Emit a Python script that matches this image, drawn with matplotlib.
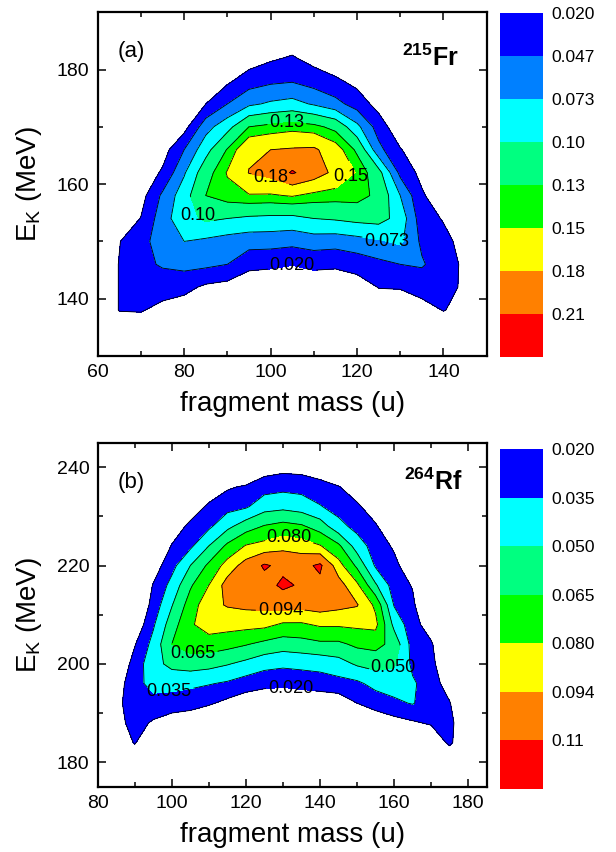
import numpy as np
import matplotlib.pyplot as plt
from matplotlib.ticker import MultipleLocator

plt.rcParams['font.family'] = ['Liberation Sans', 'DejaVu Sans']
plt.rcParams['mathtext.fontset'] = 'custom'
plt.rcParams['mathtext.rm'] = 'Liberation Sans'
plt.rcParams['mathtext.it'] = 'Liberation Sans:italic'
plt.rcParams['mathtext.bf'] = 'Liberation Sans:bold'

# ---- 215Fr: yield on a (mass, E_K) grid, one list per mass column ----
fr_mass = [60, 65, 70, 75, 80, 85, 90, 95, 100, 105, 110, 115, 120, 125, 130, 135, 140, 145, 150]
fr_ek = [130, 134, 138, 142, 146, 150, 154, 158, 162, 166, 170, 174, 178, 182, 186, 190]
fr_yield = [
    [0, 0, 0, 0, 0, 0, 0, 0, 0, 0, 0, 0, 0, 0, 0, 0],
    [0, 0, .021, .021, .021, .019, 0, 0, 0, 0, 0, 0, 0, 0, 0, 0],
    [0, 0, .022, .035, .040, .038, .021, .010, 0, 0, 0, 0, 0, 0, 0, 0],
    [0, 0, .012, .032, .050, .060, .062, .052, .024, .008, 0, 0, 0, 0, 0, 0],
    [0, 0, .005, .028, .055, .073, .090, .088, .070, .047, .010, 0, 0, 0, 0, 0],
    [0, 0, 0, .015, .053, .068, .105, .130, .118, .090, .063, .020, 0, 0, 0, 0],
    [0, 0, 0, .010, .047, .062, .100, .142, .152, .132, .090, .047, .015, 0, 0, 0],
    [0, 0, 0, 0, .028, .058, .095, .148, .181, .175, .130, .068, .035, .005, 0, 0],
    [0, 0, 0, 0, .025, .058, .093, .147, .190, .180, .137, .077, .042, .016, 0, 0],
    [0, 0, 0, 0, .021, .055, .092, .152, .213, .183, .142, .082, .045, .023, 0, 0],
    [0, 0, 0, 0, .027, .060, .100, .143, .196, .185, .137, .070, .036, .010, 0, 0],
    [0, 0, 0, 0, .025, .058, .103, .140, .172, .163, .122, .056, .025, 0, 0, 0],
    [0, 0, 0, .005, .032, .063, .108, .140, .148, .125, .080, .035, .012, 0, 0, 0],
    [0, 0, 0, .021, .040, .070, .110, .123, .110, .055, .035, .010, 0, 0, 0, 0],
    [0, 0, 0, .022, .047, .078, .090, .073, .040, .022, 0, 0, 0, 0, 0, 0],
    [0, 0, .010, .030, .050, .042, .032, .024, .012, 0, 0, 0, 0, 0, 0, 0],
    [0, 0, .021, .030, .032, .028, .018, 0, 0, 0, 0, 0, 0, 0, 0, 0],
    [0, 0, .012, .015, .015, .010, 0, 0, 0, 0, 0, 0, 0, 0, 0, 0],
    [0, 0, 0, 0, 0, 0, 0, 0, 0, 0, 0, 0, 0, 0, 0, 0],
]
fr_levels = [0.020, 0.047, 0.073, 0.10, 0.13, 0.15, 0.18, 0.21]
fr_ticklabels = ['0.020', '0.047', '0.073', '0.10', '0.13', '0.15', '0.18', '0.21']
fr_colors = ['#0000ff', '#0080ff', '#00ffff', '#00ff80', '#00ff00', '#ffff00', '#ff8000', '#ff0000']
fr_label_levels = [0.020, 0.073, 0.10, 0.13, 0.15, 0.18]
fr_label_text = ['0.020', '0.073', '0.10', '0.13', '0.15', '0.18']
fr_label_pos = [(104.9, 146.8), (126.9, 150.3), (82.1, 154.3), (103.7, 171.2), (119.3, 160.6), (100.3, 161.8)]

# ---- 264Rf ----
rf_mass = [80, 85, 90, 95, 100, 105, 110, 115, 120, 125, 130, 135, 140, 145, 150, 155, 160, 165, 170, 175, 180, 185]
rf_ek = [176, 180, 184, 188, 192, 196, 200, 204, 208, 212, 216, 220, 224, 228, 232, 236, 240, 244]
rf_yield = [
    [0, 0, 0, 0, 0, 0, 0, 0, 0, 0, 0, 0, 0, 0, 0, 0, 0, 0],
    [0, 0, .010, .014, .015, .012, .005, 0, 0, 0, 0, 0, 0, 0, 0, 0, 0, 0],
    [0, .010, .021, .026, .030, .030, .026, .019, .008, 0, 0, 0, 0, 0, 0, 0, 0, 0],
    [0, 0, .008, .018, .030, .040, .045, .040, .033, .026, .021, .012, 0, 0, 0, 0, 0, 0],
    [0, 0, 0, .012, .028, .040, .054, .065, .058, .049, .040, .030, .021, .010, 0, 0, 0, 0],
    [0, 0, 0, .008, .027, .038, .057, .072, .078, .072, .063, .050, .032, .024, .010, 0, 0, 0],
    [0, 0, 0, .004, .022, .036, .055, .073, .087, .090, .080, .068, .050, .032, .023, .008, 0, 0],
    [0, 0, 0, 0, .016, .033, .051, .070, .086, .095, .100, .086, .068, .046, .030, .018, 0, 0],
    [0, 0, 0, 0, .010, .028, .046, .066, .085, .097, .103, .100, .081, .058, .033, .022, 0, 0],
    [0, 0, 0, 0, .006, .025, .040, .061, .084, .098, .104, .112, .085, .066, .044, .029, .012, 0],
    [0, 0, 0, 0, .004, .024, .038, .057, .078, .100, .113, .106, .090, .070, .046, .031, .015, 0],
    [0, 0, 0, 0, .006, .026, .039, .059, .078, .099, .108, .105, .087, .067, .043, .030, .014, 0],
    [0, 0, 0, 0, .008, .028, .040, .062, .082, .101, .106, .113, .081, .058, .036, .026, .010, 0],
    [0, 0, 0, 0, .010, .030, .044, .062, .082, .098, .100, .086, .068, .040, .029, .021, 0, 0],
    [0, 0, 0, .005, .020, .032, .052, .068, .083, .095, .083, .062, .043, .030, .023, .010, 0, 0],
    [0, 0, 0, .010, .026, .040, .055, .070, .084, .077, .052, .033, .028, .022, .010, 0, 0, 0],
    [0, 0, 0, .014, .032, .042, .052, .060, .046, .034, .028, .024, .018, .005, 0, 0, 0, 0],
    [0, 0, 0, .018, .036, .037, .032, .029, .026, .023, .019, .010, 0, 0, 0, 0, 0, 0],
    [0, 0, .005, .022, .027, .028, .026, .022, .012, 0, 0, 0, 0, 0, 0, 0, 0, 0],
    [0, 0, .024, .026, .021, .012, 0, 0, 0, 0, 0, 0, 0, 0, 0, 0, 0, 0],
    [0, 0, 0, 0, 0, 0, 0, 0, 0, 0, 0, 0, 0, 0, 0, 0, 0, 0],
    [0, 0, 0, 0, 0, 0, 0, 0, 0, 0, 0, 0, 0, 0, 0, 0, 0, 0],
]
rf_levels = [0.020, 0.035, 0.050, 0.065, 0.080, 0.094, 0.11]
rf_ticklabels = ['0.020', '0.035', '0.050', '0.065', '0.080', '0.094', '0.11']
rf_colors = ['#0000ff', '#00ffff', '#00ff80', '#00ff00', '#ffff00', '#ff8000', '#ff0000']
rf_label_levels = [0.020, 0.035, 0.050, 0.065, 0.080, 0.094]
rf_label_text = ['0.020', '0.035', '0.050', '0.065', '0.080', '0.094']
rf_label_pos = [(132.0, 194.6), (99.5, 192.8), (160.1, 197.7), (105.8, 200.9), (131.8, 226.3), (129.3, 211.6)]


def panel(ax, cax, mass, ek, yld, levels, top, colors, ticklabels,
          lab_levels, lab_text, lab_pos, tag, nucleus, nuc_xy, xlim, ylim):
    z = np.array(yld).T
    cf = ax.contourf(mass, ek, z, levels=levels + [top], colors=colors)
    # one line set per level, so each label can be put on its own level
    for lev in levels:
        cs = ax.contour(mass, ek, z, levels=[lev], colors='k', linewidths=0.6)
        if lev in lab_levels:
            i = lab_levels.index(lev)
            texts = ax.clabel(cs, manual=[lab_pos[i]], fmt={lev: lab_text[i]},
                              inline=True, inline_spacing=2, fontsize=13, colors='k')
            for t in texts:
                t.set_rotation(0)

    ax.set_xlim(*xlim)
    ax.set_ylim(*ylim)
    ax.xaxis.set_major_locator(MultipleLocator(20))
    ax.xaxis.set_minor_locator(MultipleLocator(10))
    ax.yaxis.set_major_locator(MultipleLocator(20))
    ax.yaxis.set_minor_locator(MultipleLocator(10))
    ax.tick_params(which='both', direction='in', top=True, right=True,
                   width=1.1, labelsize=14, pad=6)
    ax.tick_params(which='major', length=5.5)
    ax.tick_params(which='minor', length=3.5)
    for s in ax.spines.values():
        s.set_linewidth(1.6)
    ax.set_xlabel('fragment mass (u)', fontsize=20, labelpad=7)
    ax.set_ylabel(r'E$_{\mathrm{K}}$ (MeV)', fontsize=20, labelpad=9)

    ax.text(0.052, 0.885, tag, transform=ax.transAxes, fontsize=16,
            ha='left', va='center')
    ax.text(nuc_xy[0], nuc_xy[1], nucleus, transform=ax.transAxes,
            fontsize=18, fontweight='bold', ha='right', va='top')

    cb = fig.colorbar(cf, cax=cax)
    cb.outline.set_visible(False)
    cb.set_ticks(levels)
    cb.set_ticklabels(ticklabels)
    cax.invert_yaxis()
    cax.tick_params(length=0, labelsize=12.5, pad=6)


fig = plt.figure(figsize=(6.16, 8.52), dpi=100)
ax_a = fig.add_axes([0.1586, 0.5822, 0.6315, 0.4034])
cax_a = fig.add_axes([0.8117, 0.5813, 0.0693, 0.4031])
ax_b = fig.add_axes([0.1586, 0.0766, 0.6315, 0.4038])
cax_b = fig.add_axes([0.8117, 0.0743, 0.0693, 0.3984])

panel(ax_a, cax_a, fr_mass, fr_ek, fr_yield, fr_levels, 0.24, fr_colors, fr_ticklabels,
      fr_label_levels, fr_label_text, fr_label_pos, '(a)', r'$^{\mathbf{215}}$Fr',
      (0.928, 0.905), (60, 150), (130, 190))
panel(ax_b, cax_b, rf_mass, rf_ek, rf_yield, rf_levels, 0.125, rf_colors, rf_ticklabels,
      rf_label_levels, rf_label_text, rf_label_pos, '(b)', r'$^{\mathbf{264}}$Rf',
      (0.938, 0.925), (80, 185), (175, 245))

fig.savefig('out.png', dpi=100)
